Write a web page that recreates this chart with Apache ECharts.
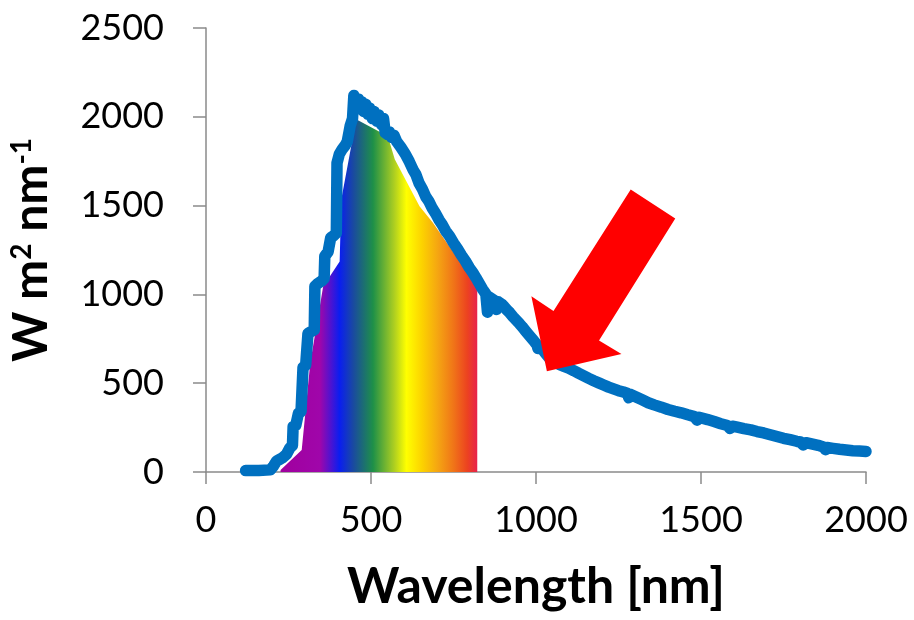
<!DOCTYPE html>
<html>
<head>
<meta charset="utf-8">
<script src="https://cdn.jsdelivr.net/npm/echarts@6/dist/echarts.min.js"></script>
<style>
  html, body { margin: 0; padding: 0; background: #fff; }
  #chart { width: 914px; height: 620px; }
</style>
</head>
<body>
<div id="chart"></div>
<script>
// Solar spectral irradiance: [wavelength nm, W m^2 nm^-1]
const spectrum = [
  [120, 8], [160, 8], [195, 12], [205, 35], [214, 62], [222, 70], [232, 80], [244, 100],
  [254, 135], [262, 150], [264, 255], [272, 262], [277, 272], [280, 330], [288, 340],
  [292, 350], [294, 590], [302, 600], [307, 605], [309, 780], [318, 790], [328, 800],
  [330, 1045], [338, 1060], [343, 1062], [350, 1075], [358, 1090], [360, 1215], [370, 1240],
  [378, 1320], [385, 1328], [395, 1345], [397, 1740], [404, 1790], [412, 1815], [422, 1840],
  [428, 1860], [437, 1950], [444, 1990], [448, 2120], [454, 2130], [458, 2060], [462, 2100],
  [466, 2045], [472, 2085], [478, 2030], [484, 2070], [490, 2015], [496, 2050], [504, 1990],
  [510, 2030], [518, 1975], [524, 2010], [532, 1955], [538, 1990], [543, 1910], [550, 1900],
  [556, 1915], [562, 1885], [570, 1895], [578, 1860], [584, 1870], [590, 1830], [596, 1840],
  [604, 1790], [610, 1795], [616, 1748], [622, 1740], [628, 1700], [636, 1675], [646, 1625],
  [656, 1592], [666, 1550], [676, 1522], [686, 1484], [696, 1455], [706, 1420], [716, 1392],
  [726, 1358], [738, 1328], [750, 1290], [762, 1257], [774, 1220], [786, 1188], [798, 1150],
  [808, 1124], [818, 1094], [828, 1062], [838, 1030], [848, 1002], [853, 900], [858, 985],
  [866, 975], [874, 965], [880, 915], [886, 958], [896, 945], [904, 930], [912, 912],
  [920, 898], [930, 875], [940, 855], [950, 835], [958, 818], [968, 795], [980, 768],
  [992, 742], [1003, 716], [1006, 695], [1010, 710], [1020, 690], [1030, 665], [1040, 643],
  [1055, 622], [1070, 606], [1085, 595], [1099, 585], [1115, 570], [1130, 555], [1145, 541],
  [1160, 527], [1175, 514], [1190, 502], [1205, 490], [1220, 478], [1235, 468], [1250, 458],
  [1265, 450], [1278, 442], [1281, 418], [1285, 438], [1300, 425], [1320, 408], [1340, 390],
  [1358, 378], [1380, 365], [1400, 352], [1420, 342], [1440, 333], [1460, 322], [1480, 312],
  [1488, 292], [1494, 308], [1500, 305], [1520, 295], [1540, 284], [1560, 272], [1580, 262],
  [1588, 245], [1595, 258], [1610, 252], [1630, 244], [1651, 237], [1670, 228], [1690, 220],
  [1710, 210], [1730, 200], [1750, 190], [1770, 182], [1790, 173], [1801, 169], [1810, 152],
  [1818, 165], [1835, 158], [1855, 150], [1873, 140], [1877, 126], [1882, 138], [1900, 133],
  [1920, 128], [1940, 124], [1960, 120], [1980, 118], [2000, 116]
];

// Visible band outline, filled with a rainbow gradient
const visibleBand = [
  [226, 11], [290, 124], [316, 615], [355, 1044], [405, 1185], [410, 1535], [431, 1744],
  [455, 1986], [551, 1891], [572, 1761], [647, 1496], [687, 1405], [822, 1044]
];

// Arrow outline in data units (wavelength, irradiance)
const arrowOutline = [
  [1287, 1591], [1422, 1427], [1191, 741], [1259, 664], [1033, 567], [986, 989], [1053, 906]
];

const xTicks = { min: 0, max: 2000, step: 500 };
const yTicks = { min: 0, max: 2500, step: 500 };

const rainbowStops = [
  [0.00, '#A0009E'], [0.20, '#A006AA'], [0.30, '#0A1EF0'], [0.37, '#1A4AA0'],
  [0.47, '#1E9048'], [0.58, '#B0D020'], [0.64, '#FFFF00'], [0.72, '#FCD200'],
  [0.80, '#F5A512'], [0.88, '#F07418'], [0.95, '#EC4220'], [1.00, '#E8224C']
];

const axisGray = '#8A8A8A';
const plainNumber = v => String(v);
const chart = echarts.init(document.getElementById('chart'), null, { renderer: 'canvas' });

chart.setOption({
  animation: false,
  backgroundColor: '#ffffff',
  grid: { left: 202, right: 48, top: 28, bottom: 148, containLabel: false },
  xAxis: {
    type: 'value',
    min: xTicks.min, max: xTicks.max, interval: xTicks.step,
    name: 'Wavelength [nm]',
    nameLocation: 'middle',
    nameGap: 90,
    nameTextStyle: { fontFamily: 'Lato', fontWeight: 'bold', fontSize: 50, color: '#000' },
    axisLine: { show: true, onZero: false, lineStyle: { color: axisGray, width: 1.5 } },
    axisTick: { show: true, length: 12, lineStyle: { color: axisGray, width: 1.5 } },
    axisLabel: { margin: 30, fontFamily: 'Lato', fontSize: 36, color: '#000', formatter: plainNumber },
    splitLine: { show: false }
  },
  yAxis: {
    type: 'value',
    min: yTicks.min, max: yTicks.max, interval: yTicks.step,
    name: 'W m{sup|2} nm{sup|-1}',
    nameLocation: 'middle',
    nameGap: 150,
    nameTextStyle: {
      fontFamily: 'Lato', fontWeight: 'bold', fontSize: 48, color: '#000',
      rich: {
        sup: { fontFamily: 'Lato', fontWeight: 'bold', fontSize: 28, color: '#000', verticalAlign: 'top', lineHeight: 26 }
      }
    },
    axisLine: { show: true, lineStyle: { color: axisGray, width: 1.5 } },
    axisTick: { show: true, length: 13, lineStyle: { color: axisGray, width: 1.5 } },
    axisLabel: { margin: 42, fontFamily: 'Lato', fontSize: 36, color: '#000', formatter: plainNumber },
    splitLine: { show: false }
  },
  series: [
    {
      name: 'visible',
      type: 'line',
      data: visibleBand,
      showSymbol: false,
      silent: true,
      z: 1,
      lineStyle: { width: 0 },
      areaStyle: {
        opacity: 1,
        color: new echarts.graphic.LinearGradient(0, 0, 1, 0,
          rainbowStops.map(([offset, color]) => ({ offset, color })))
      }
    },
    {
      name: 'spectrum',
      type: 'line',
      data: spectrum,
      showSymbol: false,
      silent: true,
      z: 2,
      lineStyle: { width: 11.5, color: '#0070C0', join: 'round', cap: 'round' }
    },
    {
      name: 'arrow',
      type: 'custom',
      silent: true,
      z: 3,
      data: [arrowOutline[0]],
      renderItem: (params, api) => ({
        type: 'polygon',
        shape: { points: arrowOutline.map(p => api.coord(p)) },
        style: { fill: '#FF0000' }
      })
    }
  ]
});
</script>
</body>
</html>
